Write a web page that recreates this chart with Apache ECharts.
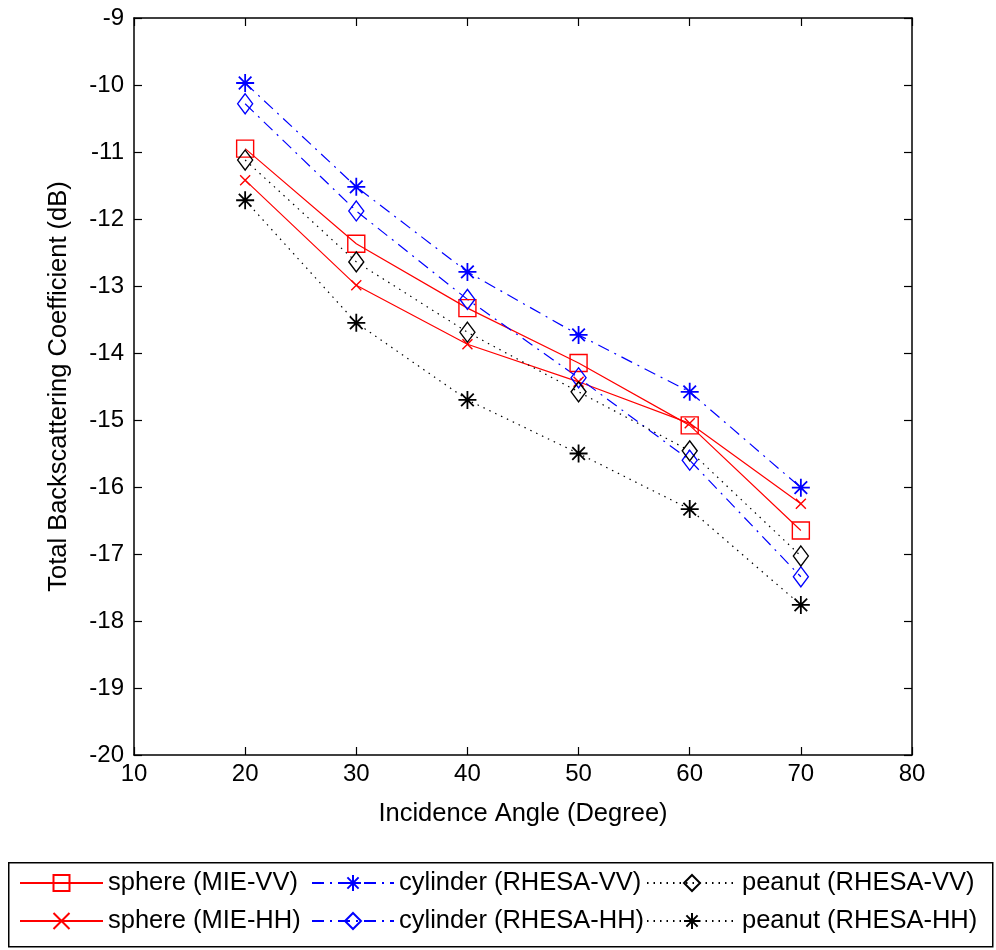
<!DOCTYPE html>
<html>
<head>
<meta charset="utf-8">
<script src="https://cdn.jsdelivr.net/npm/echarts@6/dist/echarts.min.js"></script>
<style>
html,body{margin:0;padding:0;background:#fff;}
#chart{width:996px;height:950px;}
</style>
</head>
<body>
<div id="chart"></div>
<script>
// ---- data ----
var angles = [20, 30, 40, 50, 60, 70];
var sphereVV   = [-10.95, -12.37, -13.33, -14.15, -15.08, -16.65];
var sphereHH   = [-11.42, -12.99, -13.87, -14.43, -15.05, -16.25];
var cylinderVV = [-9.97, -11.52, -12.79, -13.73, -14.58, -16.01];
var cylinderHH = [-10.28, -11.88, -13.20, -14.37, -15.60, -17.34];
var peanutVV   = [-11.12, -12.64, -13.69, -14.58, -15.46, -17.03];
var peanutHH   = [-11.72, -13.55, -14.70, -15.50, -16.33, -17.76];
var names = ['sphere (MIE-VV)', 'sphere (MIE-HH)', 'cylinder (RHESA-VV)', 'cylinder (RHESA-HH)', 'peanut (RHESA-VV)', 'peanut (RHESA-HH)'];
var xTitle = 'Incidence Angle (Degree)';
var yTitle = 'Total Backscattering Coefficient (dB)';

function pts(arr){ return angles.map(function(a,i){ return [a, arr[i]]; }); }

var FONT = '"Liberation Sans", Arial, sans-serif';
var STAR = 'path://M0,5L10,5M5,0L5,10M1.5,1.5L8.5,8.5M8.5,1.5L1.5,8.5';
var XMARK = 'path://M0,0L10,10M10,0L0,10';

function mkSeries(name, arr, color, lineType, symbol, size, filled, bw){
  return {
    name: name, type: 'line', data: pts(arr),
    symbol: symbol, symbolSize: size, showSymbol: true,
    lineStyle: {color: color, width: 1.2, type: lineType},
    itemStyle: {color: filled ? color : 'rgba(0,0,0,0)', borderColor: color, borderWidth: bw || 1.4},
    emphasis: {disabled: true},
    animation: false, z: 3
  };
}

var dashDot = [12, 6, 2, 6];
var dotted = [1.5, 5];

var series = [
  mkSeries(names[0], sphereVV, '#ff0000', 'solid', 'rect', 17, false),
  mkSeries(names[1], sphereHH, '#ff0000', 'solid', XMARK, 10, false),
  mkSeries(names[2], cylinderVV, '#0000ff', dashDot, STAR, 18, true, 1.8),
  mkSeries(names[3], cylinderHH, '#0000ff', dashDot, 'diamond', [15, 20], false),
  mkSeries(names[4], peanutVV, '#000000', dotted, 'diamond', [15, 20], false),
  mkSeries(names[5], peanutHH, '#000000', dotted, STAR, 18, true, 1.8)
];

function leg(name, left, top, w){
  return {
    data: [name], left: left, top: top, orient: 'horizontal',
    itemWidth: w, itemHeight: 20, itemGap: 5, padding: 0,
    textStyle: {fontFamily: FONT, fontSize: 25.5, color: '#000'},
    selectedMode: false
  };
}

var axisCommon = {
  axisLine: {show: true, lineStyle: {color: '#000', width: 1.5}},
  axisTick: {show: true, inside: true, length: 8, lineStyle: {color: '#000', width: 1.2}},
  splitLine: {show: false}
};

var option = {
  backgroundColor: '#fff',
  animation: false,
  grid: {left: 134, right: 84, top: 18, bottom: 195, containLabel: false},
  xAxis: [
    Object.assign({
      type: 'value', min: 10, max: 80, interval: 10, position: 'bottom',
      name: xTitle, nameLocation: 'middle', nameGap: 46,
      nameTextStyle: {fontFamily: FONT, fontSize: 25.5, color: '#000'},
      axisLabel: {fontFamily: FONT, fontSize: 24, color: '#000', margin: 7}
    }, axisCommon),
    Object.assign({
      type: 'value', min: 10, max: 80, interval: 10, position: 'top',
      axisLabel: {show: false}
    }, axisCommon)
  ],
  yAxis: [
    Object.assign({
      type: 'value', min: -20, max: -9, interval: 1, position: 'left',
      name: yTitle, nameLocation: 'middle', nameGap: 62, nameRotate: 90,
      nameTextStyle: {fontFamily: FONT, fontSize: 25.5, color: '#000'},
      axisLabel: {fontFamily: FONT, fontSize: 24, color: '#000', margin: 10}
    }, axisCommon),
    Object.assign({
      type: 'value', min: -20, max: -9, interval: 1, position: 'right',
      axisLabel: {show: false}
    }, axisCommon)
  ],
  legend: [
    leg(names[0], 19, 870, 83),
    leg(names[2], 311, 870, 82),
    leg(names[4], 646, 870, 90),
    leg(names[1], 19, 908, 83),
    leg(names[3], 311, 908, 82),
    leg(names[5], 646, 908, 90)
  ],
  graphic: [{
    type: 'rect', left: 8, top: 862, z: 0,
    shape: {width: 984, height: 84},
    style: {fill: '#fff', stroke: '#000', lineWidth: 1.5}
  }],
  series: series
};

var chart = echarts.init(document.getElementById('chart'), null, {renderer: 'canvas'});
chart.setOption(option);
</script>
</body>
</html>
